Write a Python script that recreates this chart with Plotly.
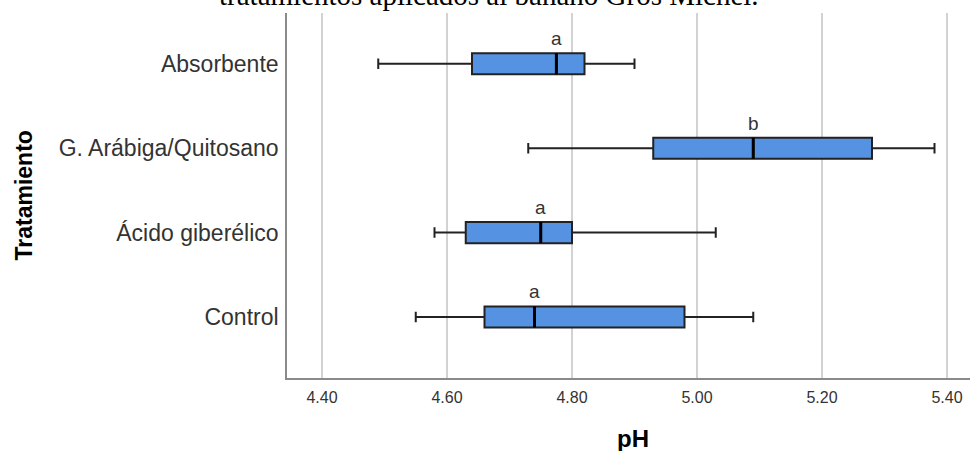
import plotly.graph_objects as go

# Data
categories = ["Absorbente", "G. Arábiga/Quitosano", "Ácido giberélico", "Control"]
positions = [3, 2, 1, 0]
lower_whisker = [4.49, 4.73, 4.58, 4.55]
q1_vals = [4.64, 4.93, 4.63, 4.66]
median_vals = [4.775, 5.09, 4.75, 4.74]
q3_vals = [4.82, 5.28, 4.80, 4.98]
upper_whisker = [4.90, 5.38, 5.03, 5.09]
letters = ["a", "b", "a", "a"]
x_ticks = [4.40, 4.60, 4.80, 5.00, 5.20, 5.40]

BOX_W = 0.25
FONT = "Arial, Liberation Sans, sans-serif"

fig = go.Figure()
fig.add_trace(go.Box(
    orientation="h",
    y=positions,
    q1=q1_vals, median=median_vals, q3=q3_vals,
    lowerfence=lower_whisker, upperfence=upper_whisker,
    width=BOX_W, whiskerwidth=0.5,
    fillcolor="#5593e2",
    line=dict(color="#222222", width=2),
    boxpoints=False, showlegend=False, hoverinfo="skip",
))

# Thick median lines
mx, my = [], []
for p, m in zip(positions, median_vals):
    mx += [m, m, None]
    my += [p - BOX_W / 2, p + BOX_W / 2, None]
fig.add_trace(go.Scatter(x=mx, y=my, mode="lines",
                         line=dict(color="#000000", width=3),
                         showlegend=False, hoverinfo="skip"))

# Significance letters
for p, m, l in zip(positions, median_vals, letters):
    fig.add_annotation(x=m, y=p + BOX_W / 2, xref="x", yref="y", text=l,
                       showarrow=False, xanchor="center", yanchor="bottom", yshift=2,
                       font=dict(family=FONT, size=19, color="#333333"))

# Title (partially cut at top in the reference)
fig.add_annotation(x=0.2958, y=1, xref="paper", yref="paper",
                   text="tratamientos aplicados al banano Gros Michel.",
                   showarrow=False, xanchor="center", yanchor="bottom", yshift=0,
                   font=dict(family="Times New Roman, Liberation Serif, serif", size=29, color="#000000"))

# Axis titles
fig.add_annotation(x=0.5066, y=0, xref="paper", yref="paper", text="<b>pH</b>",
                   showarrow=False, xanchor="center", yanchor="top", yshift=-45,
                   font=dict(family=FONT, size=24, color="#000000"))
fig.add_annotation(x=-0.3865, y=0.5, xref="paper", yref="paper", text="<b>Tratamiento</b>",
                   showarrow=False, xanchor="center", yanchor="middle", textangle=-90,
                   font=dict(family=FONT, size=23, color="#000000"))

fig.update_layout(
    width=970, height=451,
    margin=dict(l=287, r=0, t=13, b=73),
    paper_bgcolor="white", plot_bgcolor="white",
    xaxis=dict(range=[4.344, 5.4368], tickvals=x_ticks, tickformat=".2f",
               showgrid=True, gridcolor="#d2d2d2", gridwidth=1.6,
               showline=True, linecolor="#8a8a8a", linewidth=1.6,
               ticks="outside", ticklen=4, tickcolor="rgba(0,0,0,0)",
               tickfont=dict(family=FONT, size=16, color="#333333"),
               zeroline=False, fixedrange=True),
    yaxis=dict(range=[-0.723, 3.602], tickvals=positions, ticktext=categories,
               showgrid=False, showline=True, linecolor="#8a8a8a", linewidth=1.6,
               ticks="outside", ticklen=2, tickcolor="rgba(0,0,0,0)",
               tickfont=dict(family=FONT, size=23, color="#333333"),
               zeroline=False, fixedrange=True),
)

fig.write_html("out.html", config={"displayModeBar": False},
               post_script="document.body.style.margin='0';document.body.style.overflow='hidden';")
